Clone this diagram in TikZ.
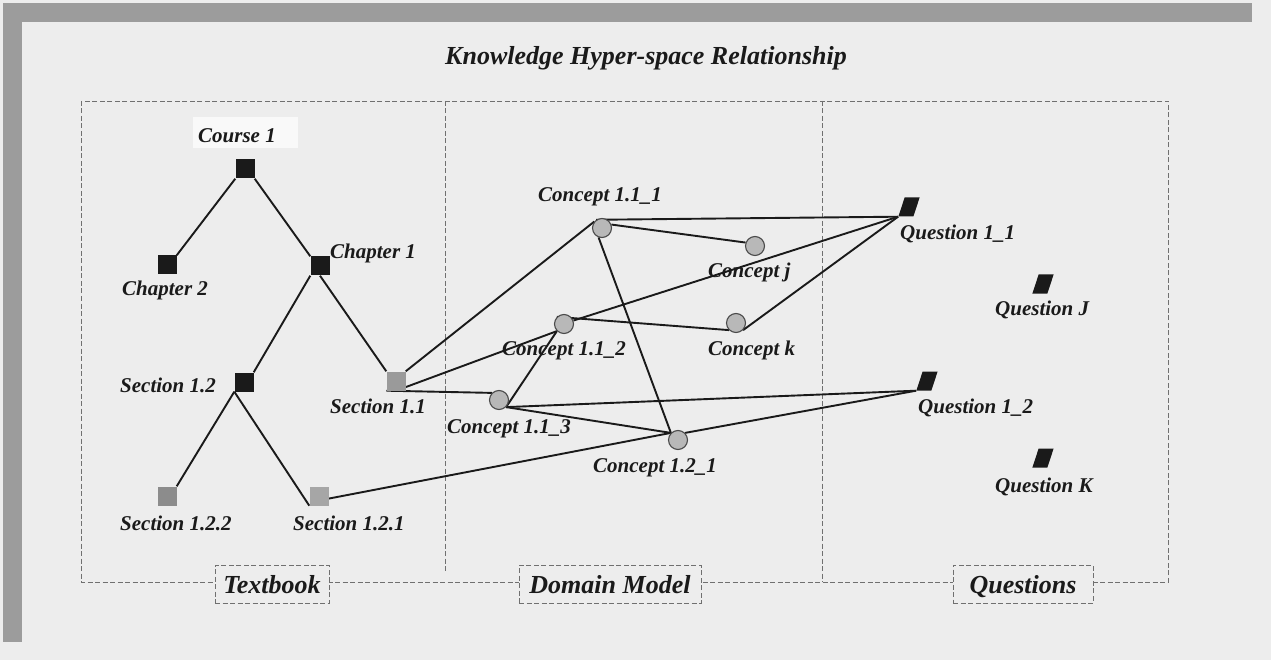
\documentclass[tikz,border=0pt]{standalone}
\usepackage{fontspec}
\setmainfont{Liberation Serif}
\pgfdeclarelayer{back}
\pgfdeclarelayer{links}
\pgfsetlayers{back,links,main}

\definecolor{paper}{HTML}{EDEDED}
\definecolor{patch}{HTML}{F9F9F9}
\definecolor{bar}{HTML}{9C9C9C}
\definecolor{frame}{HTML}{707070}
\definecolor{ink}{HTML}{1A1A1A}
\definecolor{secA}{HTML}{9A9A9A}
\definecolor{secB}{HTML}{A6A6A6}
\definecolor{secC}{HTML}{8C8C8C}
\definecolor{cfill}{HTML}{B8B8B8}
\definecolor{cedge}{HTML}{4A4A4A}

\begin{document}
\begin{tikzpicture}[x=1pt,y=-1pt,
  lbl/.style={anchor=base west, inner sep=0pt, text=ink,
              font=\fontsize{21}{24}\selectfont\bfseries\itshape},
  sq/.style={rectangle, minimum size=19pt, inner sep=0pt, fill=ink},
  cpt/.style={circle, minimum size=19pt, inner sep=0pt, fill=cfill,
              draw=cedge, line width=1.1pt},
  qst/.style={rectangle, minimum width=15pt, minimum height=19pt,
              inner sep=0pt, fill=ink, xslant=0.33},
  link/.style={draw=ink, line width=1.9pt},
  dashframe/.style={draw=frame, line width=0.9pt, dash pattern=on 5pt off 2.5pt},
  tag/.style={dashframe, fill=paper, minimum height=38pt, text height=18pt,
              text depth=0pt, inner sep=0pt, text=ink,
              font=\fontsize{26}{30}\selectfont\bfseries\itshape}]

\useasboundingbox (0,0) rectangle (1271,660);

% page, side bars, frame and column dividers
\begin{pgfonlayer}{back}
  \fill[paper] (0,0) rectangle (1271,660);
  \fill[bar] (5,3) rectangle (1252,22);
  \fill[bar] (3,3) rectangle (22,642);
  \draw[dashframe] (81,101) rectangle (1168,582);
  \draw[dashframe] (445,101) -- (445,573);
  \draw[dashframe] (822,101) -- (822,582);
  \fill[patch] (193,117) rectangle (298,148);
  \node[anchor=base, inner sep=0pt, text=ink,
        font=\fontsize{26}{30}\selectfont\bfseries\itshape] (title) at (646,65)
        {Knowledge Hyper-space Relationship};
\end{pgfonlayer}

% textbook tree
\node[sq] (co1) at (245,169) {};
\node[sq] (ch2) at (167,265) {};
\node[sq] (ch1) at (320,266) {};
\node[sq] (s12) at (244,382) {};
\node[sq, fill=secA] (s11) at (396,381) {};
\node[sq, fill=secC] (s122) at (167,496) {};
\node[sq, fill=secB] (s121) at (319,496) {};

% domain model concepts
\node[cpt] (c111) at (602,228) {};
\node[cpt] (cj)   at (755,246) {};
\node[cpt] (c112) at (564,324) {};
\node[cpt] (ck)   at (736,323) {};
\node[cpt] (c113) at (499,400) {};
\node[cpt] (c121) at (678,440) {};

% questions
\node[qst] (q11) at (909,207) {};
\node[qst] (qj)  at (1043,284) {};
\node[qst] (q12) at (927,381) {};
\node[qst] (qk)  at (1043,458) {};

% labels
\node[lbl] (lco1)  at (198,143) {Course 1};
\node[lbl] (lch2)  at (122,295) {Chapter 2};
\node[lbl] (lch1)  at (330,259) {Chapter 1};
\node[lbl] (ls12)  at (120,392) {Section 1.2};
\node[lbl] (ls11)  at (330,413) {Section 1.1};
\node[lbl] (ls122) at (120,530) {Section 1.2.2};
\node[lbl] (ls121) at (293,530) {Section 1.2.1};
\node[lbl] (lc111) at (538,202) {Concept 1.1\_1};
\node[lbl] (lcj)   at (708,278) {Concept j};
\node[lbl] (lc112) at (502,355) {Concept 1.1\_2};
\node[lbl] (lck)   at (708,355) {Concept k};
\node[lbl] (lc113) at (447,433) {Concept 1.1\_3};
\node[lbl] (lc121) at (593,472) {Concept 1.2\_1};
\node[lbl] (lq11)  at (900,240) {Question 1\_1};
\node[lbl] (lqj)   at (995,316) {Question J};
\node[lbl] (lq12)  at (918,413) {Question 1\_2};
\node[lbl] (lqk)   at (995,492) {Question K};

% column captions on the bottom edge of the frame
\node[tag, minimum width=114pt] (tb) at (272,584) {Textbook};
\node[tag, minimum width=182pt] (dm) at (610,584) {Domain Model};
\node[tag, minimum width=140pt] (qs) at (1023,584) {Questions};

% connections
\begin{pgfonlayer}{links}
  \draw[link] (co1.south west) -- (ch2.north east);
  \draw[link] (co1.south east) -- (ch1.north west);
  \draw[link] (ch1.south west) -- (s12.north east);
  \draw[link] (ch1.south) -- (s11.north west);
  \draw[link] (s12.south west) -- (s122.north east);
  \draw[link] (s12.south west) -- (s121.south west);

  \draw[link] (s11.north east) -- (c111.140);
  \draw[link] (s11.south) -- (c112.south west);
  \draw[link] (s11.south west) -- (c113.north west);
  \draw[link] (s121.-15) -- (c121.north west);

  \draw[link] (c111.125) -- (q11.south west);
  \draw[link] (c111.20) -- (cj.160);
  \draw[link] (c111.250) -- (c121.north west);
  \draw[link] (c112.north west) -- (ck.south west);
  \draw[link] (c112.20) -- (q11.south west);
  \draw[link] (ck.south east) -- (q11.south west);
  \draw[link] (c113.south east) -- (c112.south west);
  \draw[link] (c113.south east) -- (c121.north west);
  \draw[link] (c113.south east) -- (q12.south west);
  \draw[link] (c121.north east) -- (q12.south west);
\end{pgfonlayer}

\end{tikzpicture}
\end{document}
